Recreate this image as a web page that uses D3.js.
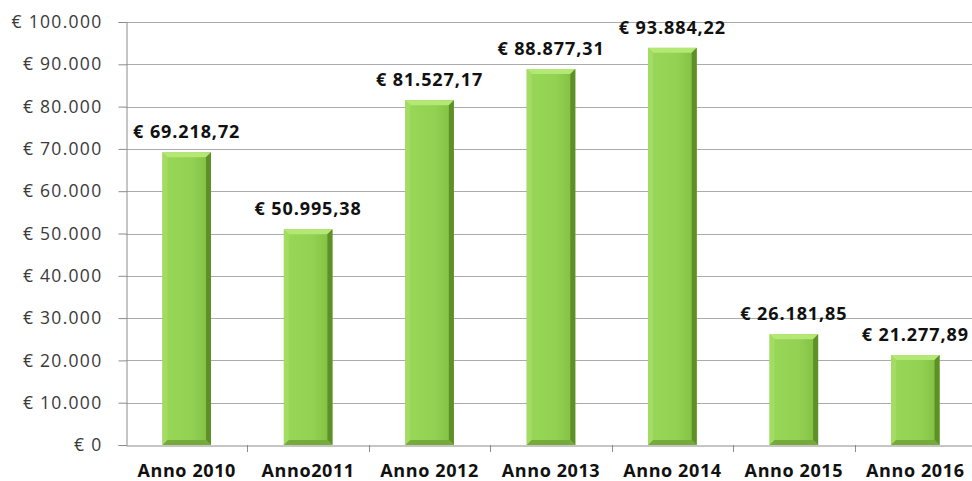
<!DOCTYPE html>
<html><head><meta charset="utf-8">
<script src="https://cdn.jsdelivr.net/npm/d3@7"></script>
<style>body{margin:0;background:#fff}svg{display:block}</style>
</head><body>
<svg id="c" width="972" height="481"></svg>
<script>
const categories = ["Anno 2010","Anno2011","Anno 2012","Anno 2013","Anno 2014","Anno 2015","Anno 2016"];
const values = [69218.72, 50995.38, 81527.17, 88877.31, 93884.22, 26181.85, 21277.89];
const yTicks = [0,10000,20000,30000,40000,50000,60000,70000,80000,90000,100000];

const svg = d3.select("#c");
const mLeft = 126, mRight = 976, mTop = 22, mBottom = 445;
const x = d3.scaleBand().domain(categories).range([mLeft, mRight]).paddingInner(0.6).paddingOuter(0.3);
const xb = d3.scaleBand().domain(categories).range([mLeft, mRight]);
const y = d3.scaleLinear().domain([0, 100000]).range([mBottom, mTop]);

const itFmt = d3.formatLocale({decimal:",", thousands:".", grouping:[3], currency:["€ ",""]});
const fInt = itFmt.format(",.0f");
const fDec = itFmt.format(",.2f");
const FONT = "'Open Sans', Lato, sans-serif";

// gridlines
svg.append("g").selectAll("line").data(yTicks.filter(d=>d>0)).join("line")
  .attr("x1", mLeft).attr("x2", 972).attr("y1", d=>Math.round(y(d))+0.5).attr("y2", d=>Math.round(y(d))+0.5)
  .attr("stroke", "#ababab").attr("stroke-width", 1);

// y axis
const ya = svg.append("g").attr("transform", `translate(${mLeft+0.5},0)`)
  .call(d3.axisLeft(y).tickValues(yTicks).tickSize(8).tickPadding(16).tickFormat(d=>"€ " + fInt(d)));
ya.select(".domain").attr("stroke", "#8c8c8c");
ya.selectAll(".tick line").attr("stroke", "#8c8c8c");
ya.selectAll(".tick text").attr("font-family", FONT).attr("font-size", 17.5).attr("letter-spacing", 1.3).attr("fill", "#3a3a3a");

// x axis
const xa = svg.append("g").attr("transform", `translate(0,${mBottom+0.5})`)
  .call(d3.axisBottom(xb).tickSize(0).tickPadding(19));
xa.select(".domain").attr("stroke", "#8c8c8c");
xa.selectAll(".tick text").attr("font-family", FONT).attr("font-weight", "bold").attr("font-size", 18).attr("letter-spacing", 0.6).attr("fill", "#111");
svg.append("g").selectAll("line").data(categories.slice(1)).join("line")
  .attr("x1", d=>Math.round(xb(d))+0.5).attr("x2", d=>Math.round(xb(d))+0.5)
  .attr("y1", mBottom).attr("y2", mBottom+7).attr("stroke", "#8c8c8c");

// gradient
const defs = svg.append("defs");
const g = defs.append("linearGradient").attr("id","face").attr("x1","0").attr("x2","1").attr("y1","0").attr("y2","0");
g.append("stop").attr("offset","0").attr("stop-color","#98d757");
g.append("stop").attr("offset","0.6").attr("stop-color","#92d151");
g.append("stop").attr("offset","1").attr("stop-color","#80be42");

const b = 5;
const bars = svg.append("g").selectAll("g").data(categories).join("g");
bars.each(function(c, i){
  const gg = d3.select(this);
  const x0 = x(c), x1 = x(c) + x.bandwidth();
  const y0 = y(values[i]), y1 = y(0);
  gg.append("rect").attr("x", x0).attr("y", y0).attr("width", x1-x0).attr("height", y1-y0).attr("fill", "url(#face)");
  const poly = pts => gg.append("polygon").attr("points", pts.map(p=>p.join(",")).join(" "));
  poly([[x0,y0],[x1,y0],[x1-b,y0+b],[x0+b,y0+b]]).attr("fill","#b4e874");
  poly([[x0,y0],[x0+b,y0+b],[x0+b,y1-b],[x0,y1]]).attr("fill","#a2dc62");
  poly([[x1,y0],[x1-b,y0+b],[x1-b,y1-b],[x1,y1]]).attr("fill","#5e9028");
  poly([[x0,y1],[x0+b,y1-b],[x1-b,y1-b],[x1,y1]]).attr("fill","#76ab3c");
  gg.append("text").attr("x", (x0+x1)/2).attr("y", y0-14).attr("text-anchor","middle")
    .attr("font-family", FONT).attr("font-weight","bold").attr("font-size", 18).attr("letter-spacing", 0.9).attr("fill","#111")
    .text("€ " + fDec(values[i]));
});
</script>
</body></html>
